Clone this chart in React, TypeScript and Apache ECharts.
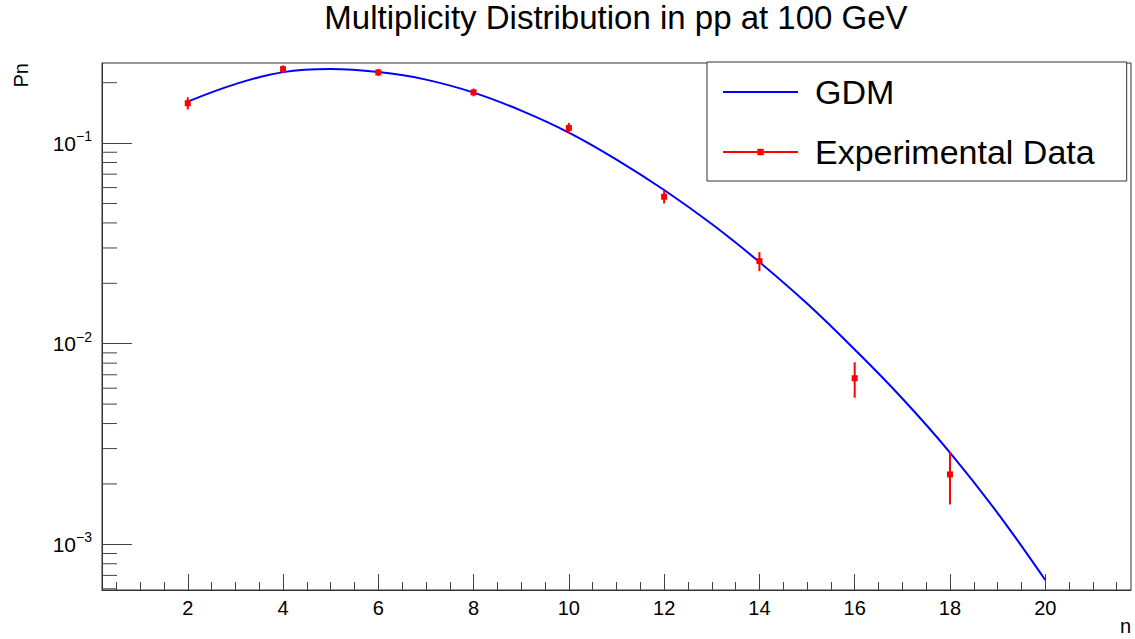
import React, { useEffect, useRef } from 'react';
import * as echarts from 'echarts';

const FONT = '"Liberation Sans", Arial, Helvetica, sans-serif';

const chartTitle = 'Multiplicity Distribution in pp at 100 GeV';
const xTitle = 'n';
const yTitle = 'Pn';
const gdmName = 'GDM';
const expName = 'Experimental Data';

// GDM curve
const gdmN = [2, 3, 4, 5, 6, 7, 8, 9, 10, 11, 12, 13, 14, 15, 16, 17, 18, 19, 20];
const gdmP = [0.161, 0.1968, 0.2258, 0.2338, 0.2258, 0.2072, 0.1785, 0.1452, 0.1128, 0.08275, 0.05833, 0.03947, 0.02552, 0.01585, 0.009352, 0.00533, 0.002867, 0.001432, 0.000664];

// Experimental data with errors
const expN = [2, 4, 6, 8, 10, 12, 14, 16, 18];
const expP = [0.158, 0.2337, 0.225, 0.179, 0.119, 0.054, 0.0258, 0.00673, 0.00223];
const expErr = [0.011, 0.01, 0.009, 0.008, 0.007, 0.004, 0.0028, 0.00135, 0.00065];

// Axes
const xMin = 0.2;
const xMax = 21.8;
const yMin = 0.000592;
const yMax = 0.2507;
const xMajorTicks = [2, 4, 6, 8, 10, 12, 14, 16, 18, 20];
const xMinorTicks = [0.5, 1, 1.5, 2.5, 3, 3.5, 4.5, 5, 5.5, 6.5, 7, 7.5, 8.5, 9, 9.5, 10.5, 11, 11.5, 12.5, 13, 13.5, 14.5, 15, 15.5, 16.5, 17, 17.5, 18.5, 19, 19.5, 20.5, 21, 21.5];
const yMinorTicks = [0.0006, 0.0007, 0.0008, 0.0009, 0.002, 0.003, 0.004, 0.005, 0.006, 0.007, 0.008, 0.009, 0.02, 0.03, 0.04, 0.05, 0.06, 0.07, 0.08, 0.09, 0.2];

export default function App() {
  const ref = useRef<HTMLDivElement>(null);
  useEffect(() => {
    if (!ref.current) return;
    const chart = echarts.init(ref.current, null, { renderer: 'svg' });
    const option: any = {
      animation: false,
      backgroundColor: '#ffffff',
      textStyle: { fontFamily: FONT },
      title: {
        text: chartTitle,
        left: 616,
        top: 1,
        padding: 0,
        textAlign: 'center',
        textStyle: { fontSize: 33, fontWeight: 'normal', color: '#000', fontFamily: FONT },
      },
      legend: {
        orient: 'vertical',
        left: 707,
        top: 62,
        padding: [13, 32, 12, 15],
        itemWidth: 75,
        itemHeight: 8,
        itemGap: 26,
        selectedMode: false,
        backgroundColor: '#fff',
        borderColor: '#333',
        borderWidth: 1,
        textStyle: { fontSize: 34, color: '#000', fontFamily: FONT, padding: [0, 0, 0, 12] },
        data: [
          { name: gdmName, itemStyle: { opacity: 0 } },
          { name: expName, lineStyle: { color: '#ff0000', width: 2, opacity: 1 }, itemStyle: { color: '#ff0000', opacity: 1 } },
        ],
      },
      grid: {
        show: true,
        left: 102,
        right: 4,
        top: 63,
        bottom: 49,
        containLabel: false,
        outerBoundsMode: 'none',
        borderColor: '#333',
        borderWidth: 1,
        backgroundColor: '#fff',
      },
      xAxis: [
        {
          type: 'value',
          min: xMin,
          max: xMax,
          position: 'bottom',
          axisLine: { show: true, lineStyle: { color: '#333', width: 1 } },
          axisTick: { show: true, inside: true, length: 16, customValues: xMajorTicks, lineStyle: { color: '#444', width: 1 } },
          axisLabel: { customValues: xMajorTicks, fontSize: 20, color: '#000', fontFamily: FONT, margin: 8 },
          splitLine: { show: false },
        },
        {
          type: 'value',
          min: xMin,
          max: xMax,
          position: 'bottom',
          axisLine: { show: false },
          axisTick: { show: true, inside: true, length: 8, customValues: xMinorTicks, lineStyle: { color: '#444', width: 1 } },
          axisLabel: { show: false },
          splitLine: { show: false },
        },
      ],
      yAxis: [
        {
          type: 'log',
          logBase: 10,
          min: yMin,
          max: yMax,
          axisLine: { show: true, lineStyle: { color: '#333', width: 1 } },
          axisTick: { show: true, inside: true, length: 30, lineStyle: { color: '#444', width: 1 } },
          axisLabel: {
            showMinLabel: false,
            showMaxLabel: false,
            margin: 10,
            color: '#000',
            fontFamily: FONT,
            formatter: (v: number) => {
              const e = Math.round(Math.log10(v));
              return `{b|10}{s|${e < 0 ? '\u2212' : ''}${Math.abs(e)}}`;
            },
            rich: {
              b: { fontSize: 21, lineHeight: 28, color: '#000', fontFamily: FONT },
              s: { fontSize: 14, lineHeight: 14, verticalAlign: 'top', color: '#000', fontFamily: FONT },
            },
          },
          splitLine: { show: false },
          minorTick: { show: false },
        },
      ],
      graphic: [
        {
          type: 'text',
          x: 20.5,
          y: 63,
          rotation: Math.PI / 2,
          style: { text: yTitle, fontSize: 20, fontFamily: FONT, fill: '#000', align: 'right', verticalAlign: 'middle' },
        },
        {
          type: 'text',
          x: 1131,
          y: 625.5,
          style: { text: xTitle, fontSize: 20, fontFamily: FONT, fill: '#000', align: 'right', verticalAlign: 'middle' },
        },
      ],
      series: [
        {
          type: 'custom',
          name: 'yMinorTicks',
          silent: true,
          xAxisIndex: 0,
          yAxisIndex: 0,
          clip: false,
          z: 5,
          data: yMinorTicks.map((v) => [xMin, v]),
          encode: { x: 0, y: 1 },
          renderItem: (params: any, api: any) => {
            const p = api.coord([api.value(0), api.value(1)]);
            return {
              type: 'line',
              shape: { x1: p[0], y1: p[1], x2: p[0] + 15, y2: p[1] },
              style: { stroke: '#444', lineWidth: 1 },
            };
          },
        },
        {
          type: 'line',
          name: gdmName,
          xAxisIndex: 0,
          yAxisIndex: 0,
          data: gdmN.map((n, i) => [n, gdmP[i]]),
          smooth: 0.4,
          symbol: 'none',
          showSymbol: false,
          lineStyle: { color: '#0000ff', width: 2 },
          itemStyle: { color: '#0000ff' },
          z: 2,
        },
        {
          type: 'custom',
          name: 'errors',
          silent: true,
          xAxisIndex: 0,
          yAxisIndex: 0,
          z: 3,
          data: expN.map((n, i) => [n, expP[i] - expErr[i], expP[i] + expErr[i]]),
          encode: { x: 0, y: [1, 2] },
          renderItem: (params: any, api: any) => {
            const p1 = api.coord([api.value(0), api.value(1)]);
            const p2 = api.coord([api.value(0), api.value(2)]);
            return {
              type: 'line',
              shape: { x1: p1[0], y1: p1[1], x2: p2[0], y2: p2[1] },
              style: { stroke: '#ff0000', lineWidth: 2 },
            };
          },
        },
        {
          type: 'line',
          name: expName,
          xAxisIndex: 0,
          yAxisIndex: 0,
          data: expN.map((n, i) => [n, expP[i]]),
          symbol: 'rect',
          symbolSize: 6,
          showSymbol: true,
          lineStyle: { opacity: 0, width: 0 },
          itemStyle: { color: '#ff0000' },
          z: 4,
        },
      ],
    };
    chart.setOption(option);
    return () => chart.dispose();
  }, []);
  return <div ref={ref} style={{ position: 'fixed', left: 0, top: 0, width: 1135, height: 639 }} />;
}
